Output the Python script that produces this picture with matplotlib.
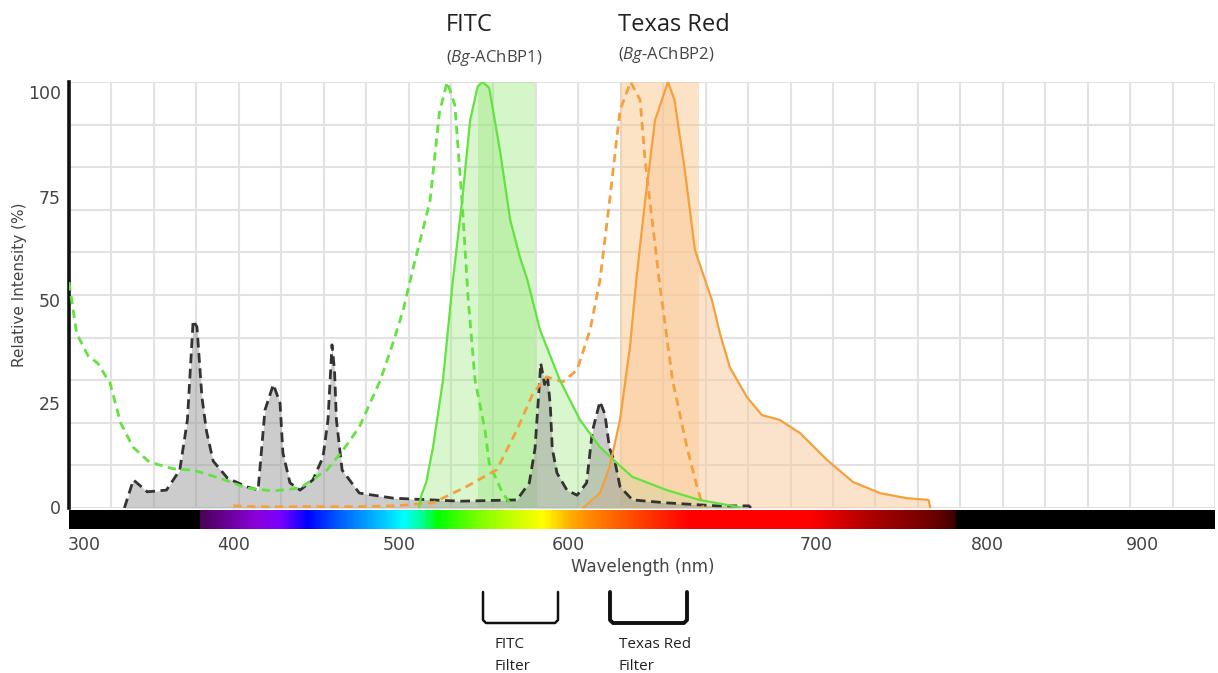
import numpy as np
import matplotlib
matplotlib.use("Agg")
import matplotlib.pyplot as plt
from matplotlib.colors import LinearSegmentedColormap
from matplotlib.lines import Line2D

plt.rcParams["font.family"] = ["DejaVu Sans"]
plt.rcParams["mathtext.fontset"] = "custom"
plt.rcParams["mathtext.rm"] = "Open Sans"
plt.rcParams["mathtext.it"] = "Open Sans:italic"

# --- data (wavelength nm, relative intensity %) ---
lamp_nm = [329, 333.7, 341, 351, 358, 362, 365, 367, 369.6, 372, 375.5, 383, 393, 399,
           402.6, 407, 410.5, 412, 415.7, 421, 427.7, 433, 435.6, 437.7, 439, 440, 443,
           452, 470, 505, 534.5, 541, 544, 547, 549, 550.5, 552, 553, 555.5, 560.7, 566,
           571, 574, 578, 580.6, 583, 586, 588.5, 595, 613, 639, 656, 657]
lamp_int = [0, 6.6, 3.8, 4.2, 8.9, 20.7, 44, 42.5, 26, 18, 11, 7, 5, 4.2,
            23, 29, 24.6, 12.9, 5.9, 4.2, 6.6, 12, 20.7, 38.3, 32.4, 20.7, 8.9,
            3.5, 2.3, 1.6, 1.9, 5.9, 14, 34, 29, 31, 24, 14, 8.2, 4.2, 3,
            5.9, 18, 25, 22, 14, 10.5, 5, 1.9, 1.2, 0.5, 0.5, 0]

fitc_ex_nm = [300, 304, 310, 315, 321.5, 327, 333.5, 342, 354.5, 365, 379, 393, 407, 421,
              435, 443.5, 452, 463, 469.6, 475, 480, 489, 494, 498, 502, 505.8, 509,
              512.6, 517.8, 520, 527, 532.5]
fitc_ex_int = [53, 41, 35.7, 34, 29.3, 20, 14.3, 10.8, 9.2, 8.9, 7, 4.7, 4, 4.7,
               8.9, 13.6, 19, 30, 38.7, 46.5, 56, 72, 93, 100, 94.6, 72, 49,
               30, 18.3, 10.5, 3.5, 0.2]

fitc_em_nm = [483, 484.5, 487, 490.6, 495.8, 501, 505.8, 510, 514, 516.7, 520, 525.6, 531,
              536, 540, 546.6, 557, 567.5, 578, 587, 595, 613, 630, 651]
fitc_em_int = [0, 3, 6, 14.3, 30, 53.5, 72, 91, 99, 100, 98.6, 84, 67.6,
               59, 53.5, 41.8, 30, 20.7, 14.3, 10.5, 7.3, 4.2, 1.9, 0.2]

tr_ex_nm = [386, 400, 450, 470, 490.6, 508, 524, 534.5, 543, 550, 558.6, 566, 572.8, 578,
            583, 588.5, 594, 599, 601.6, 609, 616, 623.5, 628.8, 632]
tr_ex_int = [0.5, 0.3, 0.3, 0.5, 1.2, 5, 9, 18.3, 27, 30.8, 29.6, 32.4, 41.8, 53.5,
             72, 93.4, 100, 95.8, 81.7, 53.5, 30, 14.3, 5, 0.2]

tr_em_nm = [569, 578, 583, 588.5, 593.7, 597, 601.6, 606.8, 613.6, 617, 622.5, 627.7, 636.6,
            640.8, 646, 655, 662.8, 672, 682.7, 696.8, 710.5, 724.6, 738.7, 750, 751]
tr_em_int = [0, 3.5, 9.6, 20.7, 37.8, 53.5, 72, 91, 100, 95.8, 79, 60.6, 48.8,
             41, 33, 26, 21.8, 20.7, 17.6, 11.3, 6.1, 3.5, 2.3, 1.9, 0]

fitc_band = (514, 544)
tr_band = (588.5, 630)

xtick_labels = ["300", "400", "500", "600", "700", "800", "900"]
xtick_pos = [308, 386, 473, 561.5, 691, 781, 862]
ytick_labels = ["0", "25", "50", "75", "100"]
ytick_pos = [0.2, 24.6, 48.8, 73.0, 97.7]

# visible spectrum colour stops (nm, colour)
spec_stops = [(368.6, "#4a0058"), (397, "#8a00d8"), (410.5, "#7a00ff"), (424.6, "#0000ff"),
              (441.9, "#0060ff"), (462.8, "#00c0ff"), (474.9, "#00ffff"), (483.8, "#00ffa0"),
              (492.7, "#00ff00"), (515, "#80ff00"), (530.9, "#c0ff00"), (548, "#ffff00"),
              (562, "#ffb000"), (572.8, "#ff8800"), (599, "#ff4000"), (625, "#ff0000"),
              (688, "#ff0000"), (719, "#b00000"), (750.8, "#700000"), (764.4, "#400000")]

W, H = 1218, 673
GREEN = "#62e340"
ORANGE = "#f5a03c"


def fx(px):
    return px / W


def fy(py):
    return 1 - py / H


fig = plt.figure(figsize=(W / 100, H / 100), dpi=100)

ax = fig.add_axes([fx(69), fy(508), fx(1215) - fx(69), fy(82) - fy(508)])
ax.set_xlim(300, 900)
ax.set_ylim(0, 100)
for v in np.linspace(300, 900, 28):
    ax.axvline(v, color="#e2e2e2", lw=1.5, zorder=0)
for v in np.linspace(0, 100, 11):
    ax.axhline(v, color="#e2e2e2", lw=1.5, zorder=0)

# filter bands
ax.axvspan(*fitc_band, color="#8ee870", alpha=0.38, lw=0, zorder=1)
ax.axvspan(*tr_band, color="#fbc88e", alpha=0.5, lw=0, zorder=1)

# emission fills
ax.fill_between(fitc_em_nm, fitc_em_int, color="#9be880", alpha=0.38, lw=0, zorder=2)
ax.fill_between(tr_em_nm, tr_em_int, color="#f9c898", alpha=0.5, lw=0, zorder=2)
ax.fill_between(lamp_nm, lamp_int, color="#9a9a9a", alpha=0.5, lw=0, zorder=2)

ax.plot(lamp_nm, lamp_int, color="#333333", lw=2, ls=(0, (3.5, 2)), zorder=4)
ax.plot(fitc_ex_nm, fitc_ex_int, color=GREEN, lw=2, ls=(0, (3, 2)), zorder=4)
ax.plot(tr_ex_nm, tr_ex_int, color=ORANGE, lw=2, ls=(0, (3, 2)), zorder=4)
ax.plot(fitc_em_nm, fitc_em_int, color=GREEN, lw=1.6, zorder=5)
ax.plot(tr_em_nm, tr_em_int, color=ORANGE, lw=1.6, zorder=5)

ax.set_xticks([])
ax.set_yticks(ytick_pos)
ax.set_yticklabels(ytick_labels, fontsize=12.5, color="#444444")
ax.tick_params(axis="y", length=0, pad=6)
for s in ["top", "right", "bottom"]:
    ax.spines[s].set_visible(False)
ax.spines["left"].set_linewidth(2.6)
ax.spines["left"].set_color("#111111")

# spectrum bar
bar = fig.add_axes([fx(69), fy(529), fx(1218) - fx(69), fy(510) - fy(529)])
lo, hi = 300, 900
nodes = [(0.0, "black"), ((spec_stops[0][0] - 0.3 - lo) / (hi - lo), "black")]
nodes += [((nm - lo) / (hi - lo), c) for nm, c in spec_stops]
nodes += [((spec_stops[-1][0] + 0.3 - lo) / (hi - lo), "black"), (1.0, "black")]
cmap = LinearSegmentedColormap.from_list("spec", nodes, N=1024)
grad = np.linspace(lo, hi, 1200)[None, :]
bar.imshow(grad, cmap=cmap, vmin=lo, vmax=hi, aspect="auto", extent=(lo, hi, 0, 1))
bar.set_xlim(lo, lo + (hi - lo) * (1218 - 69) / (1215 - 69))
bar.set_yticks([])
bar.set_xticks(xtick_pos)
bar.set_xticklabels(xtick_labels, fontsize=12.5, color="#444444")
bar.tick_params(axis="x", length=0, pad=5)
for s in bar.spines.values():
    s.set_visible(False)

fig.text(fx(643), fy(567), "Wavelength (nm)", fontsize=12, color="#444444", ha="center", va="center")
fig.text(fx(20), fy(285), "Relative Intensity (%)", fontsize=11, color="#444444",
         rotation=90, ha="center", va="center")

# dye titles
fig.text(fx(446), fy(25), "FITC", fontsize=17, family="Open Sans", color="#222222", va="center")
fig.text(fx(446), fy(58), r"($\mathit{Bg}$-AChBP1)", fontsize=12, family="Open Sans",
         color="#444444", va="center")
fig.text(fx(618), fy(25), "Texas Red", fontsize=17, family="Open Sans", color="#222222", va="center")
fig.text(fx(618), fy(55), r"($\mathit{Bg}$-AChBP2)", fontsize=12, family="Open Sans",
         color="#444444", va="center")

# filter brackets
for (x0, x1, lw) in [(483, 558, 1.8), (610, 687, 2.8)]:
    xs = [fx(x0), fx(x0), fx(x0 + 3), fx(x1 - 3), fx(x1), fx(x1)]
    ys = [fy(592), fy(620), fy(623), fy(623), fy(620), fy(592)]
    fig.add_artist(Line2D(xs, ys, color="#111111", lw=lw, solid_joinstyle="round",
                          solid_capstyle="round", transform=fig.transFigure))

fig.text(fx(495), fy(645), "FITC", fontsize=11, family="Open Sans", color="#222222", va="center")
fig.text(fx(495), fy(667), "Filter", fontsize=11, family="Open Sans", color="#222222", va="center")
fig.text(fx(619), fy(645), "Texas Red", fontsize=11, family="Open Sans", color="#222222", va="center")
fig.text(fx(619), fy(667), "Filter", fontsize=11, family="Open Sans", color="#222222", va="center")

fig.savefig("out.png", dpi=100)
